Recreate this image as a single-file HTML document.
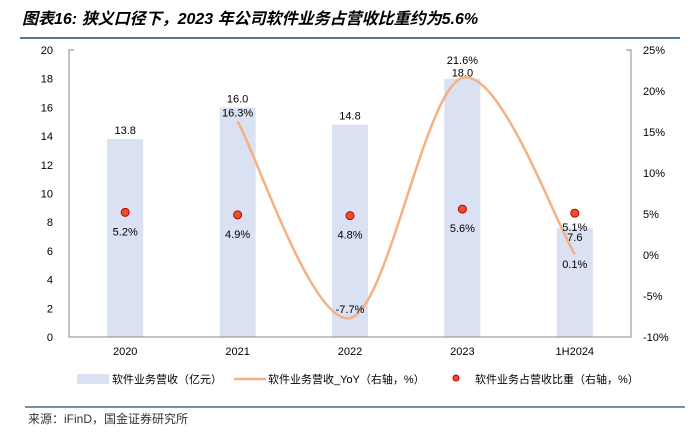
<!DOCTYPE html>
<html><head><meta charset="utf-8"><style>
body{margin:0;background:#fff;}
svg text{font-family:"Liberation Sans","Noto Sans CJK SC",sans-serif;}
</style></head><body>
<svg width="698" height="435" viewBox="0 0 698 435" xmlns="http://www.w3.org/2000/svg">
<text x="22" y="24" font-size="16" font-weight="bold" font-style="italic" fill="#000">图表16: 狭义口径下，2023 年公司软件业务占营收比重约为5.6%</text>
<line x1="20" y1="38" x2="680" y2="38" stroke="#1f4e79" stroke-width="1.5"/>
<g id="plot"></g>
<g>
<rect x="77" y="374" width="32" height="10" fill="#d9e1f2"/>
<text x="112" y="383" font-size="11" fill="#000">软件业务营收（亿元）</text>
<line x1="234" y1="379" x2="266" y2="379" stroke="#f4b183" stroke-width="2.5"/>
<text x="268" y="383" font-size="11" fill="#000">软件业务营收_YoY（右轴，%）</text>
<circle cx="456" cy="378" r="3" fill="#e8502e" stroke="#c00000"/>
<text x="475" y="383" font-size="11" fill="#000">软件业务占营收比重（右轴，%）</text>
</g>
<line x1="25" y1="407" x2="685" y2="407" stroke="#1f4e79" stroke-width="1.2"/>
<text x="28" y="423" font-size="12" fill="#333">来源：iFinD，国金证券研究所</text>
</svg>
<script>
const categories=["2020","2021","2022","2023","1H2024"];
const revenue=[13.8,16.0,14.8,18.0,7.6];
const yoy=[null,16.3,-7.7,21.6,0.1];
const share=[5.2,4.9,4.8,5.6,5.1];
const leftTicks=[0,2,4,6,8,10,12,14,16,18,20];
const rightTicks=[-10,-5,0,5,10,15,20,25];
const NS="http://www.w3.org/2000/svg";
const g=document.getElementById('plot');
const X0=69,X1=631,Y0=337,Y1=50;
const bw=(X1-X0)/categories.length;
const xc=i=>X0+bw*(i+0.5);
const yL=v=>Y0-(v-0)/(20-0)*(Y0-Y1);
const yR=v=>Y0-(v+10)/(35)*(Y0-Y1);
function mk(tag,attrs,text){const e=document.createElementNS(NS,tag);for(const k in attrs)e.setAttribute(k,attrs[k]);if(text!=null)e.textContent=text;g.appendChild(e);return e;}
const last=categories.length-1;
revenue.forEach((v,i)=>{
 const r=mk('rect',{x:xc(i)-18,y:yL(v),width:36,height:Y0-yL(v),fill:'#d9e1f2'});
 
 
 let ly=yL(v)-5;
 if(i===3)ly=yL(v)-2;
 if(i===last)ly=yL(v)+13;
 const t=mk('text',{x:xc(i),y:ly,'font-size':11,'text-anchor':'middle',fill:'#000'},v.toFixed(1));
 
 
});
const ax=mk('path',{d:`M${X0+5},${Y1} H${X0} V${Y0} H${X1} V${Y1} H${X1-5}`,fill:'none',stroke:'#888','stroke-width':1});


leftTicks.forEach(v=>{
 const t=mk('text',{x:X0-16,y:yL(v)+4,'font-size':11,'text-anchor':'end',fill:'#000'},v);
 
 
});
rightTicks.forEach(v=>{
 const t=mk('text',{x:X1+12,y:yR(v)+4,'font-size':11,'text-anchor':'start',fill:'#000'},v+'%');
 
 
});
categories.forEach((c,i)=>{
 const t=mk('text',{x:xc(i),y:Y0+18,'font-size':11,'text-anchor':'middle',fill:'#000'},c);
 
 
});
const pts=[];yoy.forEach((v,i)=>{if(v!=null)pts.push([xc(i),yR(v)]);});
let d=`M${pts[0][0]},${pts[0][1]}`;
for(let i=0;i<pts.length-1;i++){
 const p0=pts[i-1]||pts[i],p1=pts[i],p2=pts[i+1],p3=pts[i+2]||p2;
 const c1=[p1[0]+(p2[0]-p0[0])/6,p1[1]+(p2[1]-p0[1])/6];
 const c2=[p2[0]-(p3[0]-p1[0])/6,p2[1]-(p3[1]-p1[1])/6];
 d+=` C${c1[0]},${c1[1]} ${c2[0]},${c2[1]} ${p2[0]},${p2[1]}`;
}
const ln=mk('path',{d:d,fill:'none',stroke:'#f4b183','stroke-width':2.5});


yoy.forEach((v,i)=>{if(v==null)return;
 let ly=yR(v)-5;
 if(i===3)ly=yR(v)-14;
 if(i===last)ly=yR(v)+14;
 const t=mk('text',{x:xc(i),y:ly,'font-size':11,'text-anchor':'middle',fill:'#000'},v.toFixed(1)+'%');
 
 
});
share.forEach((v,i)=>{
 const c=mk('circle',{cx:xc(i),cy:yR(v),r:4,fill:'#e8502e',stroke:'#c00000','stroke-width':1});
 
 
 const ly=i===last?yR(v)+18:yR(v)+23;
 const t=mk('text',{x:xc(i),y:ly,'font-size':11,'text-anchor':'middle',fill:'#000'},v.toFixed(1)+'%');
 
 
});
</script>
</body></html>
